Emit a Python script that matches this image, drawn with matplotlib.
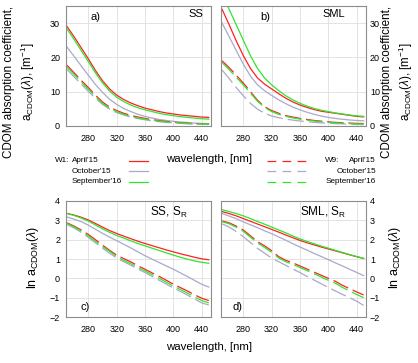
import numpy as np
import matplotlib
matplotlib.use("Agg")
import matplotlib.pyplot as plt
from matplotlib.lines import Line2D

plt.rcParams["font.family"] = ["Liberation Sans", "DejaVu Sans"]
plt.rcParams["mathtext.fontset"] = "custom"
plt.rcParams["mathtext.rm"] = "Liberation Sans"
plt.rcParams["mathtext.it"] = "Liberation Sans:italic"
plt.rcParams["mathtext.sf"] = "Liberation Sans"

# wavelength grid, nm
wavelength = [250, 260, 270, 280, 290, 300, 310, 320, 330, 340, 350,
              360, 370, 380, 390, 400, 410, 420, 430, 440, 450]

# a) SS, a_CDOM [m^-1]
ss_w1_apr15 = [29.0, 26.0, 22.8, 19.6, 16.2, 13.2, 10.8, 9.0, 7.7, 6.7, 5.9,
               5.2, 4.7, 4.2, 3.8, 3.5, 3.2, 3.0, 2.8, 2.6, 2.5]
ss_w1_oct15 = [23.0, 20.3, 17.5, 14.8, 12.1, 9.8, 7.8, 6.3, 5.1, 4.2, 3.4,
               2.8, 2.3, 1.9, 1.6, 1.35, 1.15, 1.0, 0.85, 0.75, 0.65]
ss_w1_sep16 = [28.3, 25.2, 22.0, 18.8, 15.5, 12.6, 10.2, 8.4, 7.1, 6.1, 5.3,
               4.7, 4.2, 3.7, 3.3, 3.0, 2.7, 2.5, 2.3, 2.1, 2.0]
ss_w9_apr15 = [17.7, 15.5, 13.3, 11.2, 9.0, 7.0, 5.5, 4.5, 3.7, 3.1, 2.6,
               2.2, 1.85, 1.55, 1.3, 1.1, 0.95, 0.8, 0.7, 0.6, 0.55]
ss_w9_oct15 = [16.5, 14.3, 12.2, 10.1, 8.1, 6.3, 4.9, 3.9, 3.2, 2.6, 2.15,
               1.8, 1.5, 1.25, 1.05, 0.9, 0.75, 0.63, 0.55, 0.48, 0.42]
ss_w9_sep16 = [17.2, 15.0, 12.8, 10.7, 8.6, 6.6, 5.2, 4.2, 3.4, 2.8, 2.35,
               2.0, 1.65, 1.4, 1.15, 1.0, 0.85, 0.72, 0.62, 0.55, 0.5]

# b) SML, a_CDOM [m^-1]
sml_w1_apr15 = [34.0, 29.5, 24.8, 20.5, 16.8, 14.0, 12.2, 10.8, 9.4, 8.1, 7.0,
                6.1, 5.4, 4.8, 4.3, 4.0, 3.7, 3.4, 3.1, 2.8, 2.65]
sml_w1_oct15 = [30.0, 26.0, 22.0, 18.0, 14.6, 12.0, 10.3, 8.9, 7.6, 6.5, 5.5,
                4.7, 4.0, 3.4, 2.9, 2.5, 2.2, 1.95, 1.75, 1.6, 1.5]
sml_w1_sep16 = [38.5, 34.0, 29.5, 25.0, 20.5, 16.8, 14.0, 12.0, 10.3, 8.8, 7.6,
                6.6, 5.8, 5.1, 4.6, 4.2, 3.8, 3.5, 3.2, 2.95, 2.8]
sml_w9_apr15 = [19.0, 17.0, 14.8, 12.5, 10.0, 7.5, 5.6, 4.5, 3.7, 3.0, 2.6,
                2.2, 1.9, 1.6, 1.4, 1.2, 1.05, 0.95, 0.85, 0.75, 0.7]
sml_w9_oct15 = [16.3, 13.8, 11.2, 8.8, 6.6, 4.9, 3.7, 2.9, 2.4, 2.0, 1.7,
                1.45, 1.25, 1.05, 0.9, 0.78, 0.68, 0.6, 0.52, 0.45, 0.4]
sml_w9_sep16 = [18.5, 16.4, 14.2, 12.0, 9.6, 7.2, 5.4, 4.2, 3.4, 2.8, 2.35,
                2.0, 1.7, 1.45, 1.25, 1.05, 0.9, 0.8, 0.7, 0.6, 0.55]

# c) SS, S_R, ln a_CDOM
ln_ss_w1_apr15 = [3.36, 3.27, 3.16, 3.02, 2.84, 2.65, 2.47, 2.32, 2.18, 2.05, 1.92,
                  1.80, 1.69, 1.58, 1.47, 1.37, 1.27, 1.18, 1.09, 1.01, 0.96]
ln_ss_w1_oct15 = [3.17, 3.06, 2.93, 2.75, 2.54, 2.33, 2.13, 1.95, 1.76, 1.57, 1.37,
                  1.17, 0.99, 0.82, 0.64, 0.47, 0.28, 0.09, -0.11, -0.31, -0.45]
ln_ss_w1_sep16 = [3.35, 3.25, 3.12, 2.96, 2.76, 2.56, 2.38, 2.22, 2.08, 1.94, 1.80,
                  1.68, 1.56, 1.44, 1.32, 1.20, 1.09, 0.99, 0.90, 0.83, 0.78]
ln_ss_w9_apr15 = [2.87, 2.70, 2.50, 2.27, 2.00, 1.72, 1.45, 1.20, 1.02, 0.85, 0.65,
                  0.47, 0.28, 0.10, -0.10, -0.30, -0.48, -0.66, -0.85, -1.03, -1.15]
ln_ss_w9_oct15 = [2.78, 2.60, 2.38, 2.12, 1.84, 1.56, 1.30, 1.05, 0.86, 0.68, 0.48,
                  0.30, 0.10, -0.10, -0.30, -0.50, -0.68, -0.87, -1.07, -1.27, -1.38]
ln_ss_w9_sep16 = [2.84, 2.66, 2.45, 2.20, 1.92, 1.64, 1.40, 1.12, 0.93, 0.76, 0.56,
                  0.38, 0.19, 0.00, -0.20, -0.40, -0.58, -0.77, -0.96, -1.15, -1.27]

# d) SML, S_R, ln a_CDOM
ln_sml_w1_apr15 = [3.45, 3.35, 3.23, 3.09, 2.95, 2.81, 2.67, 2.53, 2.39, 2.24, 2.10,
                   1.96, 1.84, 1.73, 1.62, 1.52, 1.42, 1.32, 1.22, 1.12, 1.03]
ln_sml_w1_oct15 = [3.35, 3.22, 3.08, 2.92, 2.77, 2.62, 2.46, 2.31, 2.14, 1.97, 1.79,
                   1.62, 1.46, 1.29, 1.13, 0.97, 0.80, 0.64, 0.47, 0.31, 0.14]
ln_sml_w1_sep16 = [3.55, 3.45, 3.35, 3.23, 3.09, 2.94, 2.80, 2.65, 2.50, 2.35, 2.19,
                   2.04, 1.91, 1.79, 1.67, 1.56, 1.45, 1.34, 1.23, 1.13, 1.03]
ln_sml_w9_apr15 = [2.97, 2.87, 2.70, 2.50, 2.20, 1.90, 1.68, 1.43, 1.12, 0.93, 0.80,
                   0.64, 0.48, 0.32, 0.16, 0.00, -0.15, -0.36, -0.53, -0.70, -0.86]
ln_sml_w9_oct15 = [2.82, 2.65, 2.42, 2.15, 1.85, 1.55, 1.30, 1.05, 0.86, 0.67, 0.48,
                   0.30, 0.10, -0.09, -0.28, -0.47, -0.65, -0.83, -1.00, -1.18, -1.40]
ln_sml_w9_sep16 = [2.93, 2.82, 2.64, 2.43, 2.13, 1.83, 1.60, 1.35, 1.05, 0.86, 0.72,
                   0.56, 0.40, 0.24, 0.07, -0.10, -0.25, -0.47, -0.65, -0.83, -1.00]

RED = "#ff2020"
GRAY = "#a9a9c9"
GREEN = "#2ee62e"
DASH = (13, 4)
SPINE = "#8c8c8c"


def style_ax(ax, ylim, yticks, right=False):
    ax.set_xlim(248, 453)
    ax.set_ylim(*ylim)
    ax.set_xticks([280, 320, 360, 400, 440])
    ax.set_yticks(yticks)
    ax.grid(True, color="#dedede", lw=0.6)
    ax.set_axisbelow(True)
    for s in ax.spines.values():
        s.set_color(SPINE)
        s.set_linewidth(0.8)
    ax.tick_params(length=0, labelsize=6.5, pad=6)
    if right:
        ax.yaxis.tick_right()
        ax.tick_params(axis="y", pad=3)
    else:
        ax.tick_params(axis="y", pad=4)


def plot_set(ax, solid, dashed):
    for series, col in zip(solid, [RED, GRAY, GREEN]):
        ax.plot(wavelength, series, color=col, lw=0.9)
    for series, col in zip(dashed, [RED, GRAY, GREEN]):
        ax.plot(wavelength, series, color=col, lw=0.9, dashes=DASH)


fig = plt.figure(figsize=(4.18, 3.63), dpi=100)
ax_a = fig.add_axes([0.157, 0.653, 0.3476, 0.3306])
ax_b = fig.add_axes([0.528, 0.653, 0.347, 0.3306])
ax_c = fig.add_axes([0.157, 0.1267, 0.3476, 0.3196])
ax_d = fig.add_axes([0.528, 0.1267, 0.347, 0.3196])

plot_set(ax_a, [ss_w1_apr15, ss_w1_oct15, ss_w1_sep16],
         [ss_w9_apr15, ss_w9_oct15, ss_w9_sep16])
plot_set(ax_b, [sml_w1_apr15, sml_w1_oct15, sml_w1_sep16],
         [sml_w9_apr15, sml_w9_oct15, sml_w9_sep16])
plot_set(ax_c, [ln_ss_w1_apr15, ln_ss_w1_oct15, ln_ss_w1_sep16],
         [ln_ss_w9_apr15, ln_ss_w9_oct15, ln_ss_w9_sep16])
plot_set(ax_d, [ln_sml_w1_apr15, ln_sml_w1_oct15, ln_sml_w1_sep16],
         [ln_sml_w9_apr15, ln_sml_w9_oct15, ln_sml_w9_sep16])

style_ax(ax_a, (0, 35), [0, 10, 20, 30])
style_ax(ax_b, (0, 35), [0, 10, 20, 30], right=True)
style_ax(ax_c, (-2, 4), [-2, -1, 0, 1, 2, 3, 4])
style_ax(ax_d, (-2, 4), [-2, -1, 0, 1, 2, 3, 4], right=True)

# panel annotations
ax_a.text(0.17, 0.88, "a)", transform=ax_a.transAxes, fontsize=8)
ax_a.text(0.95, 0.91, "SS", transform=ax_a.transAxes, fontsize=8, ha="right")
ax_b.text(0.27, 0.88, "b)", transform=ax_b.transAxes, fontsize=8)
ax_b.text(0.86, 0.91, "SML", transform=ax_b.transAxes, fontsize=8, ha="right")
ax_c.text(0.58, 0.87, r"SS, S$_\mathregular{R}$", transform=ax_c.transAxes, fontsize=8.5)
ax_c.text(0.1, 0.06, "c)", transform=ax_c.transAxes, fontsize=8)
ax_d.text(0.55, 0.87, r"SML, S$_\mathregular{R}$", transform=ax_d.transAxes, fontsize=8.5)
ax_d.text(0.08, 0.06, "d)", transform=ax_d.transAxes, fontsize=8)

# axis labels
lab_abs = "CDOM absorption coefficient,\n" + r"a$_\mathregular{CDOM}$($\lambda$), [m$^\mathregular{-1}$]"
fig.text(0.047, 0.775, lab_abs, rotation=90, ha="center", va="center",
         fontsize=8.4, multialignment="center", linespacing=1.3)
fig.text(0.953, 0.775, lab_abs, rotation=90, ha="center", va="center",
         fontsize=8.4, multialignment="center", linespacing=1.3)
lab_ln = r"ln a$_\mathregular{CDOM}$($\lambda$)"
fig.text(0.08, 0.29, lab_ln, rotation=90, ha="center", va="center", fontsize=9)
fig.text(0.945, 0.29, lab_ln, rotation=90, ha="center", va="center", fontsize=9)
fig.text(0.5, 1 - 159 / 363, "wavelength, [nm]", ha="center", va="center", fontsize=8.2)
fig.text(0.5, 1 - 347 / 363, "wavelength, [nm]", ha="center", va="center", fontsize=8.2)

# legend
leg_rows = [1 - 160.5 / 363, 1 - 171.5 / 363, 1 - 181.5 / 363]
leg_names = ["April'15", "October'15", "September'16"]
leg_cols = [RED, GRAY, GREEN]
fig.text(55 / 418, leg_rows[0], "W1:", fontsize=5.9, va="center")
fig.text(325 / 418, leg_rows[0], "W9:", fontsize=5.9, va="center")
for yy, name, col in zip(leg_rows, leg_names, leg_cols):
    fig.text(72 / 418, yy, name, fontsize=5.9, va="center")
    fig.add_artist(Line2D([129 / 418, 148 / 418], [yy, yy], color=col, lw=0.9,
                          transform=fig.transFigure))
    fig.text(376 / 418, yy, name, fontsize=5.9, va="center", ha="right")
    fig.add_artist(Line2D([267 / 418, 308 / 418], [yy, yy], color=col, lw=0.9,
                          dashes=(7, 5), transform=fig.transFigure))

fig.savefig("out.png", dpi=100)
